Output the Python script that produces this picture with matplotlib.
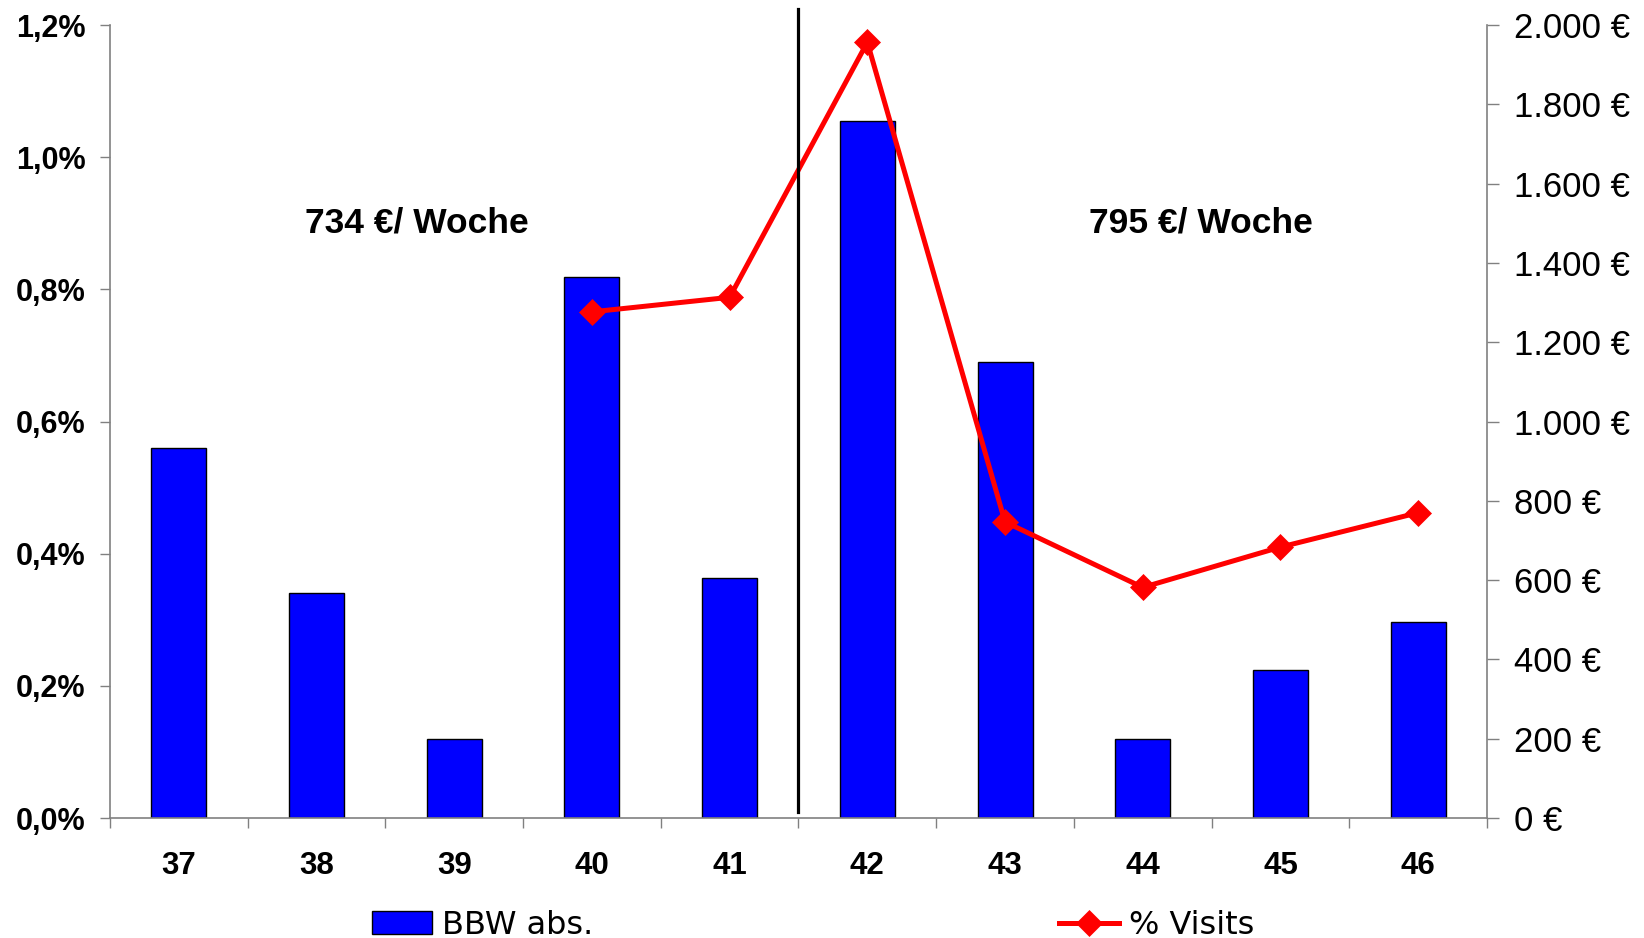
import numpy as np
import matplotlib
matplotlib.use("Agg")
import matplotlib.pyplot as plt
from matplotlib.ticker import FuncFormatter, FixedLocator
from matplotlib.lines import Line2D
from matplotlib.patches import Patch

plt.rcParams['font.family'] = ['Liberation Sans', 'DejaVu Sans']

weeks = ['37', '38', '39', '40', '41', '42', '43', '44', '45', '46']
# BBW abs. in EUR (right axis)
bbw_abs = [933, 567, 200, 1365, 605, 1757, 1150, 200, 373, 495]
# % Visits (left axis), starts at week 40
visits_pct = [np.nan, np.nan, np.nan, 0.766, 0.788, 1.174, 0.448, 0.349, 0.410, 0.462]
avg_labels = ['734 €/ Woche', '795 €/ Woche']

gray = '#808080'

fig = plt.figure(figsize=(16.44, 9.38), dpi=100)
ax = fig.add_axes([0.0669, 0.1279, 0.8376, 0.8454])
ax2 = ax.twinx()

x = np.arange(len(weeks))

# bars on the euro axis
ax2.bar(x, bbw_abs, width=0.4, color='#0000FF', edgecolor='black', linewidth=1.0)
ax2.set_ylim(0, 2000)
ax2.yaxis.set_major_locator(FixedLocator(np.arange(0, 2001, 200)))
ax2.yaxis.set_major_formatter(FuncFormatter(lambda v, p: f"{int(v):,} €".replace(',', '.')))

# line on the percent axis, drawn above the bars
ax.set_zorder(ax2.get_zorder() + 1)
ax.patch.set_visible(False)
ax.plot(x, visits_pct, color='#FF0000', lw=3.6, marker='D', ms=13.5, mew=0.5, zorder=5)
ax.set_ylim(0, 1.2)
ax.set_xlim(-0.5, len(weeks) - 0.5)
ax.yaxis.set_major_locator(FixedLocator(np.arange(0, 1.21, 0.2)))
ax.yaxis.set_major_formatter(FuncFormatter(lambda v, p: f"{v:.1f}%".replace('.', ',')))

# separator between week 41 and 42
ax.plot([4.5, 4.5], [0.009, 1.225], color='black', lw=2.3, clip_on=False, zorder=6)

ax.text(1.73, 0.9, avg_labels[0], ha='center', va='center', fontsize=25.5, fontweight='bold')
ax.text(7.42, 0.9, avg_labels[1], ha='center', va='center', fontsize=25.5, fontweight='bold')

# x axis: labels at centers, ticks at category boundaries
ax.set_xticks(x)
ax.set_xticklabels(weeks, fontsize=22.5, fontweight='bold')
ax.set_xticks(np.arange(-0.5, len(weeks), 1.0), minor=True)
ax.tick_params(axis='x', which='major', length=0, pad=24)
ax.tick_params(axis='x', which='minor', length=7.5, width=1, color=gray, direction='out')
ax.tick_params(axis='y', which='major', length=7.5, width=1, color=gray, direction='out',
               labelsize=22, pad=10)
for lab in ax.get_yticklabels():
    lab.set_fontweight('bold')
ax2.tick_params(axis='y', which='major', length=8.5, width=1, color=gray, direction='out',
                labelsize=25, pad=11)

for a in (ax, ax2):
    a.spines['top'].set_visible(False)
    for s in ('left', 'right', 'bottom'):
        a.spines[s].set_color(gray)
        a.spines[s].set_linewidth(1.2)
ax.spines['right'].set_visible(False)
ax2.spines['left'].set_visible(False)
ax2.spines['bottom'].set_visible(False)

# legend, split in two like the original
h_bar = Patch(facecolor='#0000FF', edgecolor='black', linewidth=1.0)
h_line = Line2D([], [], color='#FF0000', lw=3.6, marker='D', ms=13.5, mew=0.5)
leg_kw = dict(frameon=False, handlelength=1.9, handletextpad=0.3,
              borderpad=0, borderaxespad=0, loc='lower left',
              prop={'family': 'Liberation Sans Narrow', 'size': 23})
fig.legend([h_bar], ['BBW abs.'], bbox_to_anchor=(0.226, -0.003), **leg_kw)
fig.legend([h_line], ['% Visits'], bbox_to_anchor=(0.644, -0.003), **leg_kw)

fig.savefig('out.png', dpi=100)
